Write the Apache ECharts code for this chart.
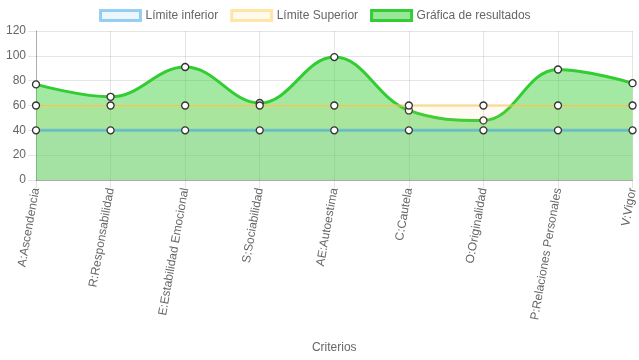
<!DOCTYPE html>
<html><head><meta charset="utf-8">
<script src="https://cdn.jsdelivr.net/npm/echarts@6/dist/echarts.min.js"></script>
<style>html,body{margin:0;padding:0;background:#fff}#c{width:639px;height:360px}</style>
</head><body><div id="c"></div>
<script>
const categories = ['A:Ascendencia','R:Responsabilidad','E:Estabilidad Emocional','S:Sociabilidad','AE:Autoestima','C:Cautela','O:Originalidad','P:Relaciones Personales','V:Vigor'];
const limiteInferior = [40,40,40,40,40,40,40,40,40];
const limiteSuperior = [60,60,60,60,60,60,60,60,60];
const resultados = [77,67,91,62,99,56,48,89,78];
const yTicks = {min:0, max:120, interval:20};

const font = 'Liberation Sans, Arial, Helvetica, sans-serif';
const gridColor = 'rgba(0,0,0,0.1)';
const pointStyle = {color:'#fff', borderColor:'#333', borderWidth:1.3};

const chart = echarts.init(document.getElementById('c'));
chart.setOption({
  animation:false,
  textStyle:{fontFamily:font},
  legend:{
    top:4, left:94, itemWidth:40, itemHeight:10, itemGap:12,
    textStyle:{fontFamily:font, fontSize:12, color:'#666'},
    data:[
      {name:'Límite inferior', icon:'rect', itemStyle:{color:'rgba(54,162,235,0.1)', borderColor:'rgba(54,162,235,0.5)', borderWidth:3}},
      {name:'Límite Superior', icon:'rect', itemStyle:{color:'rgba(255,205,86,0.1)', borderColor:'rgba(255,205,86,0.5)', borderWidth:3}},
      {name:'Gráfica de resultados', icon:'rect', itemStyle:{color:'rgba(50,205,50,0.5)', borderColor:'rgb(50,205,50)', borderWidth:3}}
    ]
  },
  grid:{left:36, right:4, top:31, bottom:180, containLabel:false},
  xAxis:{
    type:'category', boundaryGap:false, data:categories,
    name:'Criterios', nameLocation:'middle', nameGap:162,
    nameTextStyle:{fontFamily:font, fontSize:12, color:'#666'},
    axisLine:{show:true, lineStyle:{color:'rgba(0,0,0,0.25)'}},
    axisTick:{show:true, length:8, lineStyle:{color:gridColor}},
    axisLabel:{rotate:80, margin:8, fontFamily:font, fontSize:12, color:'#666'},
    splitLine:{show:true, lineStyle:{color:gridColor}}
  },
  yAxis:{
    type:'value', min:yTicks.min, max:yTicks.max, interval:yTicks.interval,
    axisLine:{show:true, lineStyle:{color:'rgba(0,0,0,0.25)'}},
    axisTick:{show:true, length:8, lineStyle:{color:gridColor}},
    axisLabel:{margin:10, fontFamily:font, fontSize:12, color:'#666'},
    splitLine:{show:true, lineStyle:{color:gridColor}}
  },
  series:[
    {name:'Gráfica de resultados', type:'line', data:resultados, smooth:0.4, z:2,
      symbol:'circle', symbolSize:7, itemStyle:pointStyle,
      lineStyle:{color:'rgb(50,205,50)', width:3},
      areaStyle:{color:'rgba(50,205,50,0.45)', opacity:1}},
    {name:'Límite Superior', type:'line', data:limiteSuperior, z:3,
      symbol:'circle', symbolSize:7, itemStyle:pointStyle,
      lineStyle:{color:'rgba(255,205,86,0.45)', width:3},
      areaStyle:{color:'rgba(255,205,86,0.08)', opacity:1}},
    {name:'Límite inferior', type:'line', data:limiteInferior, z:4,
      symbol:'circle', symbolSize:7, itemStyle:pointStyle,
      lineStyle:{color:'rgba(54,162,235,0.5)', width:3},
      areaStyle:{color:'rgba(54,162,235,0.06)', opacity:1}}
  ]
});
</script></body></html>
